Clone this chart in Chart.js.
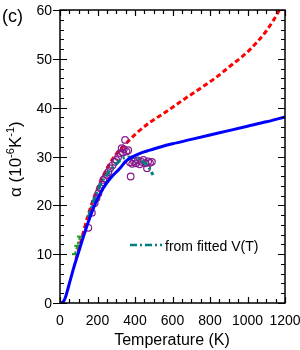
<!DOCTYPE html>
<html><head><meta charset="utf-8">
<script src="https://cdn.jsdelivr.net/npm/chart.js@4"></script>
<style>html,body{margin:0;padding:0;background:#fff}#w{width:300px;height:350px}</style>
</head><body><div id="w"><canvas id="c" width="300" height="350"></canvas></div>
<script>
// ---- data ----
const xTickLabels = [0,200,400,600,800,1000,1200];
const yTickLabels = [0,10,20,30,40,50,60];
const blueT = [0,10,20,30,40,50,60,70,80,90,100,120,150,190,230,270,320,350,390,430,480,540,600,700,800,900,1000,1100,1200];
const blueA = [0,0.05,0.4,1.3,2.6,4.0,5.4,6.8,8.1,9.3,10.5,13,16.5,20.5,23.5,25.6,27.6,29.0,30.0,30.7,31.3,32.0,32.6,33.5,34.4,35.3,36.2,37.1,38.1];
const redT = [85,100,150,190,230,267,300,356,400,480,560,657,750,836,920,970,1013,1050,1100,1140,1170,1200];
const redA = [9,11,18,22.5,26,28.7,30.5,32.8,34.5,37,39,41.6,44,46.3,48.9,50.4,51.9,53.4,55.7,58.0,60,62.2];
const tealT = [150,200,250,300,347,390,443,470,496];
const tealA = [17.5,23,26.3,28.5,29.8,29.9,28.9,28,26.2];
const greenT = [80,92,107];
const greenA = [10,11.7,13.6];
const circT = [151,170,185,195,205,215,225,231,240,249,258,267,280,293,300,310,320,329,335,340,347,355,364,373,377,385,395,405,415,425,435,445,455,464,470,480,490];
const circA = [15.4,18.5,20.5,21.5,22.5,23.5,24.2,25.2,25.5,26.2,26.8,27.6,28.2,28.9,29.3,29.9,30.7,31.7,30.8,31.5,33.4,31.0,31.3,28.8,25.9,28.5,29.0,28.6,29.2,28.4,28.9,29.3,28.6,27.6,29.0,28.7,28.9];
const legendLabel = 'from fitted V(T)';
const panelLabel = '(c)';
const xTitle = 'Temperature (K)';

const pts = (xs, ys) => xs.map((v, i) => ({x: v, y: ys[i]}));
const FONT = '"Liberation Sans", Arial, Helvetica, sans-serif';

const decor = {
  id: 'decor',
  afterDatasetsDraw(chart) {
    const {ctx, chartArea: a, scales: {x, y}} = chart;
    ctx.save();
    ctx.strokeStyle = '#000';
    ctx.lineWidth = 1.5;
    ctx.strokeRect(a.left, a.top, a.right - a.left, a.bottom - a.top);
    ctx.lineWidth = 1.2;
    ctx.beginPath();
    const xMin = xTickLabels[0], xMax = xTickLabels[xTickLabels.length - 1];
    const xStep = (xTickLabels[1] - xTickLabels[0]) / 4;
    for (let v = xMin; v <= xMax; v += xStep) {
      const px = Math.round(x.getPixelForValue(v)) + 0.5;
      const major = xTickLabels.includes(v);
      const len = major ? 6 : 4;
      ctx.moveTo(px, a.bottom); ctx.lineTo(px, a.bottom - len);
      ctx.moveTo(px, a.top); ctx.lineTo(px, a.top + len);
    }
    const yMin = yTickLabels[0], yMax = yTickLabels[yTickLabels.length - 1];
    const yStep = (yTickLabels[1] - yTickLabels[0]) / 5;
    for (let v = yMin; v <= yMax + 1e-9; v += yStep) {
      const py = Math.round(y.getPixelForValue(v)) + 0.5;
      const major = yTickLabels.includes(Math.round(v));
      if (major) {
        ctx.moveTo(a.left - 7, py); ctx.lineTo(a.left + 7, py);
        ctx.moveTo(a.right - 7, py); ctx.lineTo(a.right, py);
      } else {
        ctx.moveTo(a.left, py); ctx.lineTo(a.left + 4, py);
        ctx.moveTo(a.right - 4, py); ctx.lineTo(a.right, py);
      }
    }
    ctx.stroke();

    // tick labels
    ctx.fillStyle = '#000';
    ctx.font = '14px ' + FONT;
    ctx.textAlign = 'center';
    ctx.textBaseline = 'alphabetic';
    for (const v of xTickLabels) ctx.fillText(String(v), x.getPixelForValue(v), 325);
    ctx.textAlign = 'right';
    for (const v of yTickLabels) ctx.fillText(String(v), 52, y.getPixelForValue(v) + 5);

    // legend
    ctx.strokeStyle = '#008080';
    ctx.lineWidth = 2.5;
    ctx.setLineDash([7, 3, 2, 3]);
    ctx.beginPath();
    ctx.moveTo(130, 245); ctx.lineTo(162, 245);
    ctx.stroke();
    ctx.setLineDash([]);
    ctx.font = '14px ' + FONT;
    ctx.textAlign = 'left';
    ctx.fillText(legendLabel, 165, 251);

    // panel label
    ctx.font = '18px ' + FONT;
    ctx.fillText(panelLabel, 2, 22);

    // x title
    ctx.font = '16px ' + FONT;
    ctx.textAlign = 'center';
    ctx.fillText(xTitle, 172, 345);

    // y title (rotated)
    ctx.translate(21, 197);
    ctx.rotate(-Math.PI / 2);
    ctx.textAlign = 'left';
    const parts = [['α (10', 17, 0], ['-6', 11, -7], ['K', 17, 0], ['-1', 11, -7], [')', 17, 0]];
    let cx = 0;
    for (const [t, s, dy] of parts) {
      ctx.font = s + 'px ' + FONT;
      ctx.fillText(t, cx, dy);
      cx += ctx.measureText(t).width;
    }
    ctx.restore();
  }
};

new Chart(document.getElementById('c'), {
  type: 'line',
  data: {
    datasets: [
      {label: 'blue', data: pts(blueT, blueA), borderColor: '#0000ff', borderWidth: 3, pointRadius: 0, cubicInterpolationMode: 'monotone', fill: false},
      {label: 'green', data: pts(greenT, greenA), borderColor: '#1a9a1a', borderWidth: 2, borderDash: [3, 2], pointStyle: 'line', pointRadius: 3, pointBorderWidth: 2, pointBorderColor: '#1a9a1a', fill: false},
      {label: 'teal', data: pts(tealT, tealA), borderColor: '#008080', borderWidth: 3, borderDash: [7, 3, 2, 3], pointRadius: 0, cubicInterpolationMode: 'monotone', fill: false},
      {label: 'circles', data: pts(circT, circA), showLine: false, pointStyle: 'circle', pointRadius: 3.3, pointBorderWidth: 1.2, borderColor: '#861a8a', pointBorderColor: '#861a8a', pointBackgroundColor: 'rgba(0,0,0,0)', backgroundColor: 'rgba(0,0,0,0)'},
      {label: 'red', data: pts(redT, redA), borderColor: '#ff0000', borderWidth: 3, borderDash: [5, 3], pointRadius: 0, cubicInterpolationMode: 'monotone', fill: false}
    ]
  },
  options: {
    responsive: false,
    animation: false,
    devicePixelRatio: 1,
    layout: {padding: {left: 60, right: 15, top: 10, bottom: 47}},
    plugins: {legend: {display: false}, tooltip: {enabled: false}},
    scales: {
      x: {
        type: 'linear', min: 0, max: 1200,
        afterFit: s => { s.height = 0; },
        grid: {display: false, drawTicks: false},
        border: {display: false},
        ticks: {display: false}
      },
      y: {
        type: 'linear', min: 0, max: 60,
        afterFit: s => { s.width = 0; },
        grid: {display: false, drawTicks: false},
        border: {display: false},
        ticks: {display: false}
      }
    }
  },
  plugins: [decor]
});
</script></body></html>
